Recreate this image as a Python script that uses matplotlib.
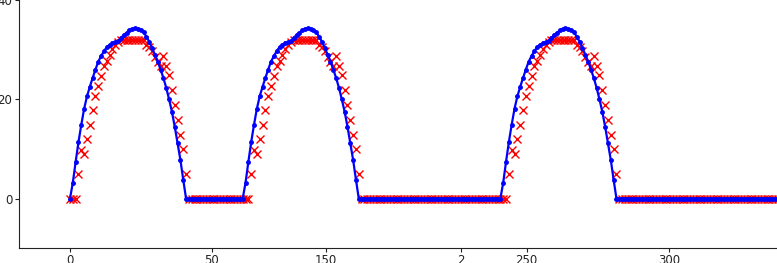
import numpy as np
import matplotlib
matplotlib.use("Agg")
import matplotlib.pyplot as plt

# One cycle of the blue (dotted line) series
hump_blue = [0.0, 3.2, 7.4, 11.4, 14.9, 18.1, 20.6, 22.5, 24.3, 26.0,
             27.6, 28.7, 29.7, 30.5, 31.0, 31.3, 31.5, 31.8, 32.3, 33.0,
             33.4, 33.9, 34.2, 34.3, 34.2, 34.0, 33.5, 32.6, 31.6, 30.3,
             29.0, 27.6, 26.0, 24.3, 22.3, 20.0, 17.5, 14.5, 11.2, 7.8,
             3.8, 0.0]
# One cycle of the red (x markers) series
hump_red = [0.0, 0.0, 0.0, 5.0, 9.8, 9.0, 12.0, 14.9, 17.8, 20.7,
            22.7, 24.6, 26.7, 27.8, 29.0, 30.2, 31.0, 31.5, 32.0, 32.0,
            32.0, 32.0, 32.0, 32.0, 32.0, 32.0, 32.0, 31.0, 30.6, 29.7,
            28.5, 27.6, 26.8, 28.8, 26.8, 24.8, 21.8, 18.8, 15.8, 12.9,
            10.0, 5.0, 0.0]
hump_starts = [0, 61, 152]
n_points = 251

xtick_pos = [0, 50, 90.3, 138, 161.3, 211.5]
xtick_labels = ["0", "50", "150", "2", "250", "300"]
ytick_pos = [0, 20, 40]

blue = np.zeros(n_points)
red = np.zeros(n_points)
for s in hump_starts:
    blue[s:s + len(hump_blue)] = hump_blue
    red[s:s + len(hump_red)] = hump_red
x = np.arange(n_points)

fig = plt.figure(figsize=(7.77, 2.63), dpi=100)
ax = fig.add_axes([19.3 / 777, 14.7 / 263, 1 - 19.3 / 777, 248.3 / 263])
ax.plot(x, red, "x", color="red", markersize=6, markeredgewidth=1.0)
ax.plot(x, blue, ".-", color="blue", markersize=5, linewidth=1.6)

ax.set_xlim(-17.9, 249.7)
ax.set_ylim(-10, 40)
ax.set_xticks(xtick_pos)
ax.set_xticklabels(xtick_labels)
ax.set_yticks(ytick_pos)
ax.tick_params(labelsize=8.5, colors="#222222", length=3, pad=2)
ax.tick_params(axis="x", pad=1)
ax.spines["top"].set_visible(False)
ax.spines["right"].set_visible(False)
for sp in ["left", "bottom"]:
    ax.spines[sp].set_color("#222222")

fig.savefig("out.png", dpi=100)
